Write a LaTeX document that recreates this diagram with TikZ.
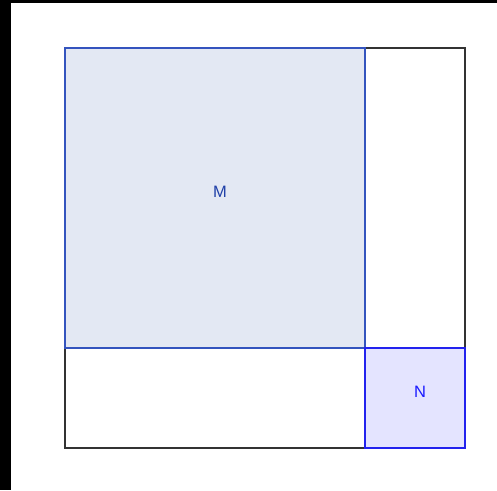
\documentclass[tikz,border=0pt]{standalone}
\usepackage{fontspec}
\setmainfont{Liberation Sans}
\usetikzlibrary{positioning,backgrounds}
\definecolor{mfill}{RGB}{227,232,243}
\definecolor{mline}{RGB}{52,84,190}
\definecolor{mtext}{RGB}{32,64,168}
\definecolor{nfill}{RGB}{228,228,255}
\definecolor{nline}{RGB}{34,34,238}
\definecolor{ntext}{RGB}{26,26,255}
\tikzset{%
part/.style={draw,rectangle,line width=1.3pt,inner sep=0,outer sep=0},
msquare/.style={part,draw=mline,fill=mfill,minimum size=300pt},
nsquare/.style={part,draw=nline,fill=nfill,minimum size=100pt},
whole/.style={draw=black!80,line width=1.3pt},
tag/.style={font=\fontsize{16.5}{16.5}\selectfont,inner sep=0,xshift=5pt,yshift=6pt}
}

\begin{document}
\begin{tikzpicture}[x=1pt,y=1pt]
    \useasboundingbox (0,0) rectangle (497,490);
    \fill[black] (0,0) rectangle (11,490);
    \fill[black] (0,487) rectangle (497,490);

    \node[msquare] (M) at (215,292) {};
    \node[nsquare,anchor=north west] (N) at (M.south east) {};
    \begin{scope}[on background layer]
      \draw[whole] (M.north west) rectangle (N.south east);
    \end{scope}

    \node[tag,text=mtext] (mlbl) at (M.center) {M};
    \node[tag,text=ntext] (nlbl) at (N.center) {N};

\end{tikzpicture}
\end{document}
